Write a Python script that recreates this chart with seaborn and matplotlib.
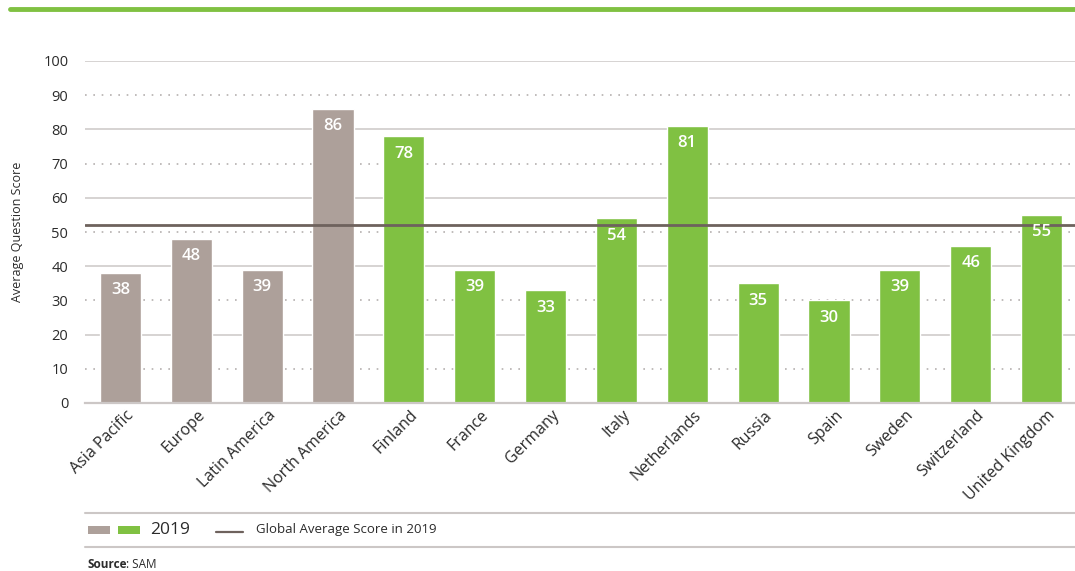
import matplotlib
matplotlib.use("Agg")
import matplotlib.pyplot as plt
from matplotlib.patches import Rectangle
from matplotlib.lines import Line2D
from matplotlib.transforms import ScaledTranslation
import seaborn as sns
import pandas as pd

categories = ["Asia Pacific", "Europe", "Latin America", "North America", "Finland",
              "France", "Germany", "Italy", "Netherlands", "Russia", "Spain",
              "Sweden", "Switzerland", "United Kingdom"]
scores = [38, 48, 39, 86, 78, 39, 33, 54, 81, 35, 30, 39, 46, 55]
groups = ["Region"] * 4 + ["Country"] * 10
global_average = 52
year_label = "2019"
average_label = "Global Average Score in 2019"

GREY = "#ADA09A"
GREEN = "#80C142"
AVG = "#6E625D"
GRID = "#CCC7C6"
TEXT = "#2B2B2B"

sns.set_theme(style="white")
plt.rcParams["font.family"] = ["Open Sans", "DejaVu Sans"]

df = pd.DataFrame({"category": categories, "score": scores, "group": groups})

fig = plt.figure(figsize=(10.75, 5.71), dpi=100)
ax = fig.add_axes([85 / 1075, 1 - 403 / 571, 992 / 1075, (403 - 61) / 571])

sns.barplot(data=df, x="category", y="score", hue="group",
            palette={"Region": GREY, "Country": GREEN},
            dodge=False, width=0.58, legend=False, ax=ax, saturation=1)

ax.set_ylim(0, 100)
ax.set_xlim(-0.5, len(categories) - 0.5)

# gridlines: solid on even tens, dotted on odd tens
for v in range(10, 101, 10):
    if v % 20 == 0:
        ax.axhline(v, color=GRID, lw=1.1, zorder=0)
    else:
        ax.axhline(v, color="#B5B0AF", lw=1.2, ls=(0, (1, 4)), zorder=0)

ax.axhline(global_average, color=AVG, lw=2, zorder=3)

for spine in ["top", "right", "left"]:
    ax.spines[spine].set_visible(False)
ax.spines["bottom"].set_color(GRID)
ax.spines["bottom"].set_linewidth(1.6)

ax.set_yticks(range(0, 101, 10))
ax.tick_params(axis="y", length=0, pad=12, labelsize=10.5, labelcolor=TEXT)

# category separators below the axis
ax.set_xticks([i - 0.5 for i in range(len(categories))], minor=True)
ax.tick_params(axis="x", which="minor", length=7, width=1.6, color=GRID, direction="out")
ax.tick_params(axis="x", which="major", length=0, pad=3, labelsize=11.5, labelcolor=TEXT)
ax.set_xticks(range(len(categories)))
ax.set_xticklabels(categories, rotation=45, ha="right", rotation_mode="anchor")
shift = ScaledTranslation(4 / 72, 0, fig.dpi_scale_trans)
for lbl in ax.get_xticklabels():
    lbl.set_transform(lbl.get_transform() + shift)

ax.set_xlabel("")
ax.set_ylabel("Average Question Score", fontsize=9, color=TEXT, labelpad=14)

for i, v in enumerate(scores):
    ax.annotate(f"{v}", (i, v), xytext=(0, -12.5), textcoords="offset points",
                ha="center", va="center", color="white", fontsize=12,
                fontweight="semibold", zorder=4)

# top rule
fig.add_artist(Line2D([10 / 1075, 1], [1 - 9 / 571] * 2, color=GREEN, lw=3.5))

# legend band
for yy in (513, 547):
    fig.add_artist(Line2D([85 / 1075, 1], [1 - yy / 571] * 2, color=GRID, lw=1.5))
fig.add_artist(Rectangle((88 / 1075, 1 - 534 / 571), 22 / 1075, 8 / 571,
                         facecolor=GREY, edgecolor="none"))
fig.add_artist(Rectangle((118 / 1075, 1 - 534 / 571), 22 / 1075, 8 / 571,
                         facecolor=GREEN, edgecolor="none"))
fig.text(150 / 1075, 1 - 530 / 571, year_label, fontsize=12.5, color=TEXT, va="center")
fig.add_artist(Line2D([216 / 1075, 243 / 1075], [1 - 532 / 571] * 2, color=AVG, lw=1.6))
fig.text(256 / 1075, 1 - 530 / 571, average_label, fontsize=9.5, color=TEXT, va="center")

src = fig.text(87 / 1075, 1 - 564 / 571, "Source", fontsize=8.5, fontweight="bold",
               color=TEXT, va="center")
renderer = fig.canvas.get_renderer()
bb = src.get_window_extent(renderer=renderer)
fig.text(bb.x1 / fig.bbox.width, 1 - 564 / 571, ": SAM", fontsize=8.5, color=TEXT, va="center")

fig.savefig("out.png", dpi=100)
